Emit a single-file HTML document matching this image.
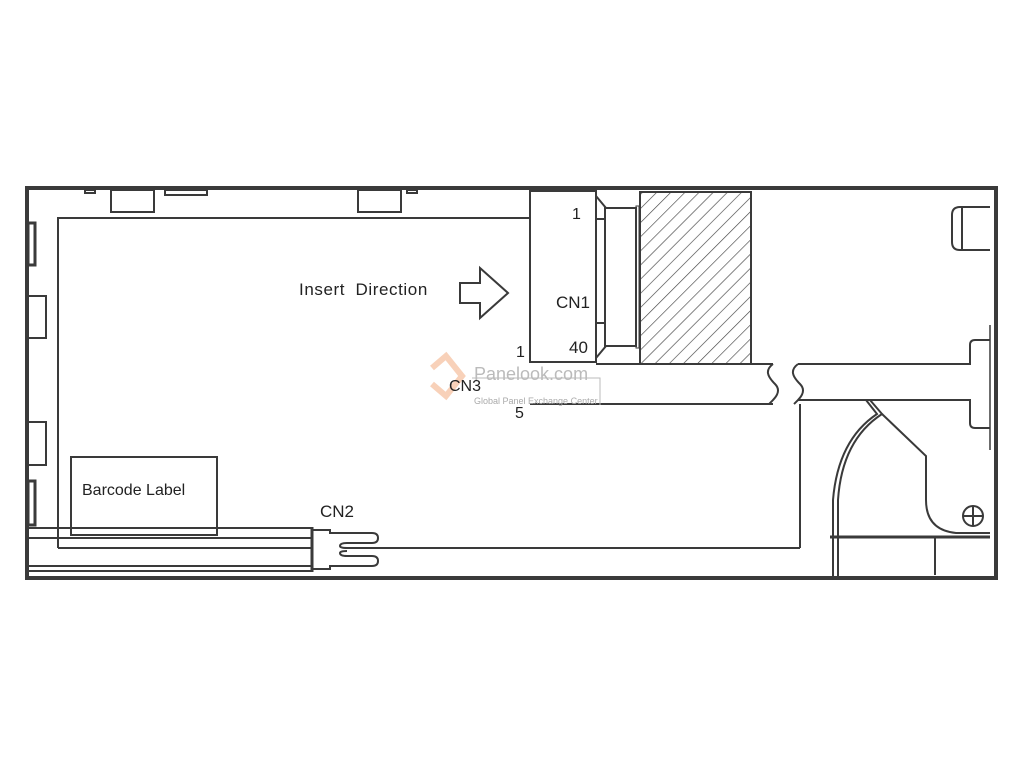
<!DOCTYPE html>
<html><head><style>body{margin:0;background:#fff}svg{display:block}text{font-family:"Liberation Sans",sans-serif;fill:#222}</style></head><body>
<svg width="1024" height="768" viewBox="0 0 1024 768" xmlns="http://www.w3.org/2000/svg">
<defs><pattern id="h" width="10" height="10" patternUnits="userSpaceOnUse" patternTransform="rotate(45)"><line x1="0" y1="0" x2="0" y2="10" stroke="#444" stroke-width="1.3"/></pattern></defs>
<g fill="none" stroke="#3a3a3a" stroke-width="2">
<path d="M27 188H996V578H27Z" stroke-width="4"/>
<path d="M58 548V218H530"/>
<path d="M800 548V404"/>
<rect x="111" y="190" width="43" height="22"/>
<rect x="358" y="190" width="43" height="22"/>
<rect x="165" y="190" width="42" height="5"/>
<rect x="85" y="190" width="10" height="3"/>
<rect x="407" y="190" width="10" height="3"/>
<rect x="27" y="296" width="19" height="42"/>
<rect x="27" y="422" width="19" height="43"/>
<rect x="28" y="223" width="7" height="42" stroke-width="3"/>
<rect x="28" y="481" width="7" height="44" stroke-width="3"/>
<rect x="530" y="191" width="66" height="171"/>
<path d="M596 191V362M596 196L606 208M596 358L606 346M596 219H605M596 323H605"/>
<rect x="605" y="208" width="31" height="138"/>
<rect x="636" y="206" width="3" height="142" stroke-width="1"/>
<rect x="640" y="192" width="111" height="172" fill="url(#h)"/>
<path d="M596 364H773M530 404H773"/>
<path d="M773 364c-8 6-6 12 2 20s-2 16-6 20"/>
<path d="M798 364c-8 6-6 12 2 20s-2 16-6 20"/>
<path d="M798 364H970V345q0-5 5-5H990M798 400H970V423q0 5 5 5H990"/>
<path d="M990 325V450" stroke-width="1.5"/>
<path d="M990 207H960q-8 0-8 8V242q0 8 8 8H990M962 207V250"/>
<path d="M866 400L877 414Q838 440 833 500V578"/>
<path d="M870 400L882 414Q842 440 838 500V578"/>
<path d="M882 414L926 456V500q0 30 30 33H990"/>
<path d="M830 537H990" stroke-width="3"/>
<path d="M935 537V575"/>
<circle cx="973" cy="516" r="10"/>
<path d="M963 516H983M973 506V526"/>
<rect x="71" y="457" width="146" height="78"/>
<path d="M27 528H312M27 538H312M27 566H312M27 571H312"/>
<path d="M58 548H312"/>
<path d="M312 527V572" stroke-width="3"/>
<path d="M312 530H330V533H372q6 0 6 5t-6 5H347q-7 0-7 3q0 2 7 2H800"/>
<path d="M312 569H330V566H372q6 0 6-5t-6-5H347q-7 0-7-3q0-2 7-2"/>
<path d="M460 283H480V268L508 293L480 318V303H460Z"/>
</g>
<g stroke="#bbb" stroke-width="1" fill="none"><path d="M472 378H600V405"/></g>
<path d="M432 368l14-12 16 20-16 20-14-12" fill="none" stroke="#f4b38a" stroke-width="6" opacity="0.6"/>
<text x="299" y="295" font-size="17" letter-spacing="0.6" word-spacing="5">Insert Direction</text>
<text x="572" y="219" font-size="16">1</text>
<text x="556" y="308" font-size="17">CN1</text>
<text x="569" y="353" font-size="17">40</text>
<text x="516" y="357" font-size="16">1</text>
<text x="449" y="391" font-size="16">CN3</text>
<text x="515" y="418" font-size="16">5</text>
<text x="82" y="495" font-size="16">Barcode Label</text>
<text x="320" y="517" font-size="17">CN2</text>
<text x="474" y="380" font-size="18" font-family="Liberation Serif" style="fill:#bbb">Panelook.com</text>
<text x="474" y="404" font-size="9" style="fill:#aaa">Global Panel Exchange Center</text>
</svg>
</body></html>
